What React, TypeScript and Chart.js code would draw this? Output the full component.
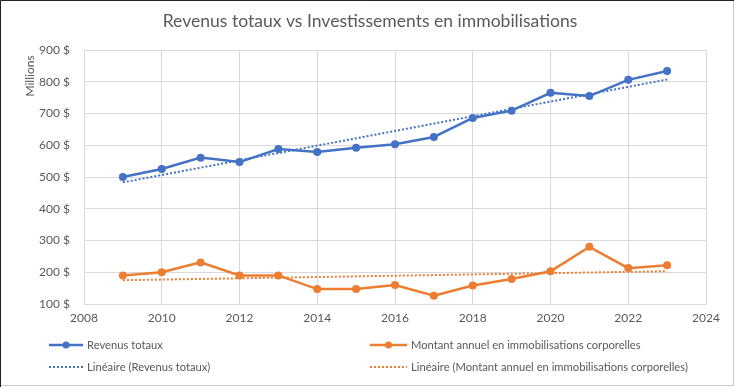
import React, { useEffect, useRef } from "react";
import { Chart, registerables } from "chart.js";

Chart.register(...registerables);

const years = [2009, 2010, 2011, 2012, 2013, 2014, 2015, 2016, 2017, 2018, 2019, 2020, 2021, 2022, 2023];
const revenus = [500, 525, 561, 547, 588, 579, 592, 603, 626, 686, 709, 765, 755, 806, 834];
const immobilisations = [190, 200, 231, 190, 190, 147, 147, 160, 126, 158, 179, 203, 280, 213, 222];

const title = "Revenus totaux vs Investissements en immobilisations";
const seriesNames = ["Revenus totaux", "Montant annuel en immobilisations corporelles"];
const trendNames = ["Linéaire (Revenus totaux)", "Linéaire (Montant annuel en immobilisations corporelles)"];
const yAxisLabel = "Millions";

const BLUE = "#4472C4";
const ORANGE = "#ED7D31";
const TEXT = "#595959";
const GRID = "#d9d9d9";
const FONT = "Lato, 'Open Sans', sans-serif";

function linearFit(xs: number[], ys: number[]) {
  const n = xs.length;
  const mx = xs.reduce((a, b) => a + b, 0) / n;
  const my = ys.reduce((a, b) => a + b, 0) / n;
  let sxy = 0, sxx = 0;
  for (let i = 0; i < n; i++) {
    sxy += (xs[i] - mx) * (ys[i] - my);
    sxx += (xs[i] - mx) * (xs[i] - mx);
  }
  const slope = sxy / sxx;
  const icpt = my - slope * mx;
  return [
    { x: xs[0], y: icpt + slope * xs[0] },
    { x: xs[n - 1], y: icpt + slope * xs[n - 1] },
  ];
}

function fitText(ctx: any, text: string, size: number, target: number, weight = "") {
  ctx.font = `${weight}${size}px ${FONT}`;
  const w = ctx.measureText(text).width;
  const s = Math.max(8, Math.min(size * 1.2, size * (target / w)));
  ctx.font = `${weight}${s.toFixed(2)}px ${FONT}`;
}

const decorPlugin = {
  id: "decor",
  beforeDraw(chart: any) {
    const ctx = chart.ctx;
    const w = chart.width, h = chart.height;
    ctx.save();
    ctx.fillStyle = "#ffffff";
    ctx.fillRect(0, 0, w, h);
    ctx.strokeStyle = "#c8c8c8";
    ctx.lineWidth = 1;
    ctx.strokeRect(0.5, 0.5, w - 1, h - 2);
    ctx.strokeStyle = "#222";
    ctx.beginPath();
    ctx.moveTo(0.5, h);
    ctx.lineTo(0.5, 0.5);
    ctx.lineTo(w, 0.5);
    ctx.stroke();
    ctx.restore();
  },
  afterDraw(chart: any) {
    const ctx = chart.ctx;
    ctx.save();
    // title
    ctx.fillStyle = TEXT;
    fitText(ctx, title, 18, 415);
    ctx.textAlign = "center";
    ctx.textBaseline = "middle";
    ctx.fillText(title, 370, 21);
    // y axis unit label
    ctx.save();
    ctx.translate(30, 76);
    ctx.rotate(-Math.PI / 2);
    ctx.font = `12px ${FONT}`;
    ctx.fillText(yAxisLabel, 0, 0);
    ctx.restore();
    // legend
    const cols = [
      { x0: 49, x1: 83, tx: 87 },
      { x0: 370, x1: 407, tx: 411 },
    ];
    const rows = [345, 367];
    const colors = [BLUE, ORANGE];
    fitText(ctx, trendNames[1], 12, 277);
    ctx.textAlign = "left";
    ctx.textBaseline = "middle";
    for (let c = 0; c < 2; c++) {
      const col = cols[c];
      ctx.strokeStyle = colors[c];
      ctx.lineWidth = 2.5;
      ctx.setLineDash([]);
      ctx.beginPath();
      ctx.moveTo(col.x0, rows[0]);
      ctx.lineTo(col.x1, rows[0]);
      ctx.stroke();
      ctx.fillStyle = colors[c];
      ctx.beginPath();
      ctx.arc((col.x0 + col.x1) / 2, rows[0], 3.5, 0, Math.PI * 2);
      ctx.fill();
      ctx.fillStyle = TEXT;
      ctx.fillText(seriesNames[c], col.tx, rows[0]);
      ctx.strokeStyle = colors[c];
      ctx.lineWidth = 2;
      ctx.setLineDash([2, 2]);
      ctx.beginPath();
      ctx.moveTo(col.x0, rows[1]);
      ctx.lineTo(col.x1, rows[1]);
      ctx.stroke();
      ctx.setLineDash([]);
      ctx.fillStyle = TEXT;
      ctx.fillText(trendNames[c], col.tx, rows[1]);
    }
    ctx.restore();
  },
};

export default function App() {
  const ref = useRef<HTMLCanvasElement | null>(null);
  useEffect(() => {
    if (!ref.current) return;
    const revPts = years.map((x, i) => ({ x, y: revenus[i] }));
    const immPts = years.map((x, i) => ({ x, y: immobilisations[i] }));
    const chart = new Chart(ref.current, {
      type: "line",
      data: {
        datasets: [
          {
            label: trendNames[0],
            data: linearFit(years, revenus),
            borderColor: BLUE,
            borderWidth: 2,
            borderDash: [2, 2],
            pointRadius: 0,
            fill: false,
          },
          {
            label: trendNames[1],
            data: linearFit(years, immobilisations),
            borderColor: ORANGE,
            borderWidth: 2,
            borderDash: [2, 2],
            pointRadius: 0,
            fill: false,
          },
          {
            label: seriesNames[0],
            data: revPts,
            borderColor: BLUE,
            backgroundColor: BLUE,
            borderWidth: 2.5,
            pointRadius: 4,
            pointBorderWidth: 0,
            pointBackgroundColor: BLUE,
            fill: false,
          },
          {
            label: seriesNames[1],
            data: immPts,
            borderColor: ORANGE,
            backgroundColor: ORANGE,
            borderWidth: 2.5,
            pointRadius: 4,
            pointBorderWidth: 0,
            pointBackgroundColor: ORANGE,
            fill: false,
          },
        ],
      },
      options: {
        animation: false,
        responsive: false,
        devicePixelRatio: 1,
        layout: { padding: { left: 0, top: 50, right: 28, bottom: 53 } },
        plugins: {
          legend: { display: false },
          title: { display: false },
          tooltip: { enabled: false },
        },
        scales: {
          x: {
            type: "linear",
            min: 2008,
            max: 2024,
            ticks: {
              stepSize: 2,
              color: TEXT,
              font: { family: FONT, size: 12 },
              padding: 7,
              callback: (v: any) => String(v),
            },
            grid: { color: GRID, drawTicks: false, lineWidth: 1 },
            border: { color: GRID },
            afterFit: (s: any) => { s.height = 30; },
          },
          y: {
            min: 100,
            max: 900,
            ticks: {
              stepSize: 100,
              color: TEXT,
              font: { family: FONT, size: 12 },
              padding: 14,
              callback: (v: any) => `${v} $`,
            },
            grid: { color: GRID, drawTicks: false, lineWidth: 1 },
            border: { color: GRID },
            afterFit: (s: any) => { s.width = 84; },
          },
        },
      },
      plugins: [decorPlugin],
    });
    return () => chart.destroy();
  }, []);
  return (
    <div style={{ position: "fixed", left: 0, top: 0, width: 734, height: 387 }}>
      <canvas ref={ref} width={734} height={387} style={{ display: "block", width: 734, height: 387 }} />
    </div>
  );
}
